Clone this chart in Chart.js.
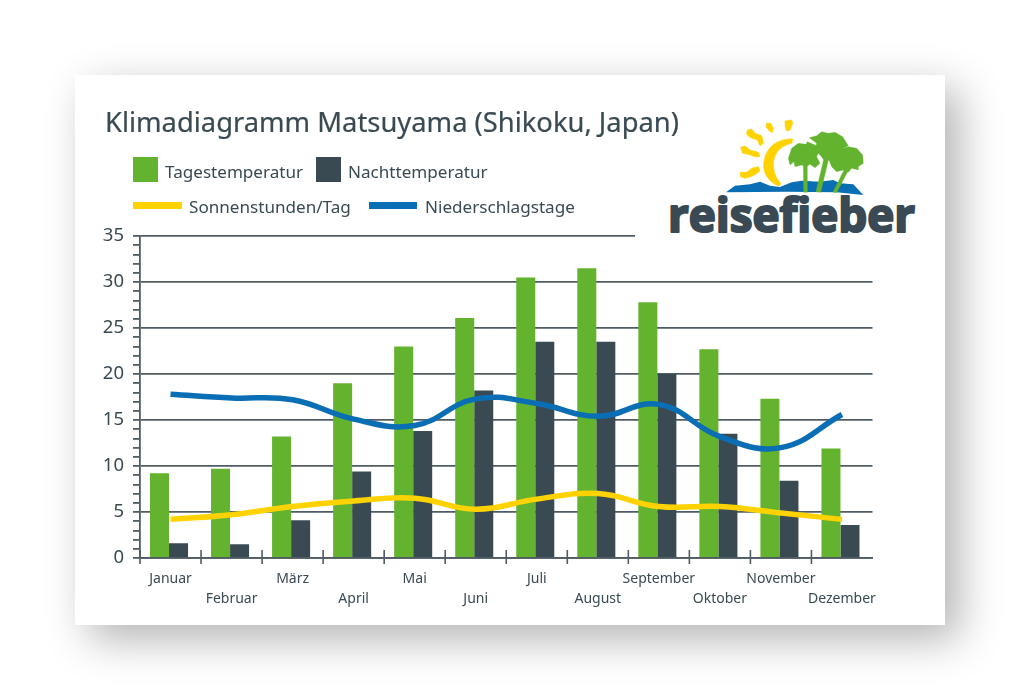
<!DOCTYPE html>
<html lang="de"><head><meta charset="utf-8">
<script src="https://cdn.jsdelivr.net/npm/chart.js@4"></script>
<style>
html,body{margin:0;padding:0;background:#fff;width:1020px;height:700px;overflow:hidden}
body{position:relative;font-family:"Noto Sans",sans-serif;color:#3a4a52}
#card{position:absolute;left:75px;top:75px;width:870px;height:550px;background:#fff;box-shadow:14px 14px 40px rgba(0,0,0,.3)}
canvas{position:absolute;left:0;top:0}
.t{position:absolute;white-space:nowrap;line-height:1}
#title{left:105px;top:108px;font-size:27.35px;z-index:5;-webkit-text-stroke:.2px #3a4a52}
.sw{position:absolute}
#logo{position:absolute;left:635px;top:105px;width:290px;height:132px;background:#fff}
</style></head><body>
<div id="card"></div>
<canvas id="c" width="1020" height="700"></canvas>
<svg id="logo" viewBox="635 105 290 132" xmlns="http://www.w3.org/2000/svg">
  <g transform="translate(720 115) scale(.3333)" stroke-linejoin="round">
    <g fill="#ffd200" stroke="#ffd200" stroke-width="2">
      <path d="M218 72 C190 70 160 82 145 105 C130 128 126 160 138 180 C148 198 162 208 178 213 L182 205 C168 190 160 170 160 148 C160 120 178 92 215 85 Z"/>
      <path d="M195 18 L215 15 L218 25 L210 45 L200 48 L196 35Z"/>
      <path d="M140 25 L152 25 L160 40 L158 52 L148 48 L138 35Z"/>
      <path d="M82 45 L95 42 L105 55 L125 62 L130 85 L120 92 L112 75 L92 68 L80 58Z"/>
      <path d="M62 97 L75 93 L90 105 L115 112 L120 125 L105 125 L85 118 L68 115Z"/>
      <path d="M60 172 L80 172 L95 160 L115 155 L120 168 L100 182 L75 190 L62 185Z"/>
    </g>
    <path fill="#0a6eb4" d="M18 232 L45 212 L90 208 L120 200 L150 212 L180 216 L215 202 L245 197 L300 200 L340 195 L360 205 L400 208 L430 240 L350 232 L200 230Z"/>
    <g fill="#63b32e" stroke="#63b32e" stroke-width="1">
      <path d="M250 150 L262 150 L262 232 L251 232Z"/>
      <path d="M312 130 L326 132 L302 232 L288 230Z"/>
      <path d="M372 165 L384 168 L350 233 L339 231Z"/>
      <path d="M205 130 L215 100 L235 85 L258 88 L262 80 L285 90 L300 105 L290 125 L300 145 L285 158 L270 148 L258 155 L245 150 L225 155 L222 140 L210 150Z"/>
      <path d="M268 68 L290 62 L305 50 L325 55 L345 52 L368 65 L385 92 L370 100 L360 120 L340 130 L325 135 L312 135 L300 120 L285 105 L290 85Z"/>
      <path d="M325 120 L340 105 L370 100 L385 95 L410 100 L428 120 L430 145 L415 155 L415 165 L395 160 L385 172 L370 165 L350 170 L335 155 L325 130Z"/>
    </g>
  </g>
  <text x="668" y="232" font-family="'Open Sans','Noto Sans',sans-serif" font-weight="700" font-size="47" fill="#3a4a54" stroke="#3a4a54" stroke-width="2.2" stroke-linejoin="round" textLength="247" lengthAdjust="spacingAndGlyphs">reisefieber</text>
</svg>
<div id="title" class="t">Klimadiagramm Matsuyama (Shikoku, Japan)</div>
<div id="legend"></div>
<script>
const months = ['Januar','Februar','März','April','Mai','Juni','Juli','August','September','Oktober','November','Dezember'];
const tagestemperatur = [9.2,9.7,13.2,19,23,26.1,30.5,31.5,27.8,22.7,17.3,11.9];
const nachttemperatur = [1.6,1.5,4.1,9.4,13.8,18.2,23.5,23.5,20,13.5,8.4,3.6];
const sonnenstunden = [4.2,4.7,5.6,6.2,6.5,5.3,6.4,7,5.6,5.6,4.9,4.2];
const niederschlagstage = [17.8,17.4,17.2,15.1,14.4,17.3,16.8,15.4,16.7,13.2,12,15.6];
const GREEN='#63b32e', DARK='#3a4a52', YELLOW='#ffd200', BLUE='#0a6eb4', GRID='#4f5c64';

function put(parent,html){parent.insertAdjacentHTML('beforeend',html);}
const lg=document.getElementById('legend');
const FS='font-size:17.1px';
put(lg,`<div class="sw" style="left:133px;top:157px;width:25px;height:25px;background:${GREEN}"></div>`);
put(lg,`<div class="t" style="left:165px;top:163px;${FS}">Tagestemperatur</div>`);
put(lg,`<div class="sw" style="left:316px;top:157px;width:25px;height:25px;background:${DARK}"></div>`);
put(lg,`<div class="t" style="left:348px;top:163px;${FS}">Nachttemperatur</div>`);
put(lg,`<div class="sw" style="left:133px;top:202px;width:49px;height:7px;background:${YELLOW}"></div>`);
put(lg,`<div class="t" style="left:189px;top:198px;${FS}">Sonnenstunden/Tag</div>`);
put(lg,`<div class="sw" style="left:369px;top:202px;width:48px;height:7px;background:${BLUE}"></div>`);
put(lg,`<div class="t" style="left:425px;top:198px;${FS}">Niederschlagstage</div>`);

const categoryTicks={id:'categoryTicks',
  beforeDatasetDraw(chart,args){
    if(chart.getDatasetMeta(args.index).type==='bar'){chart.ctx.save();chart.ctx.translate(-1.5,0);}
  },
  afterDatasetDraw(chart,args){
    if(chart.getDatasetMeta(args.index).type==='bar'){chart.ctx.restore();}
  },
  afterDraw(chart){
    const s=chart.scales.x,c=chart.ctx,w=s.getPixelForTick(1)-s.getPixelForTick(0);
    c.save();c.strokeStyle=GRID;c.lineWidth=1.6;
    for(let i=0;i<months.length;i++){
      const x=s.getPixelForTick(i)-w/2;
      c.beginPath();c.moveTo(x,s.top-8);c.lineTo(x,s.top+6);c.stroke();
    }
    c.restore();
  }};

new Chart(document.getElementById('c'),{
  type:'bar',
  data:{labels:months,datasets:[
    {type:'line',label:'Niederschlagstage',data:niederschlagstage,borderColor:BLUE,backgroundColor:BLUE,borderWidth:5.5,pointRadius:0,tension:.42,order:0},
    {type:'line',label:'Sonnenstunden/Tag',data:sonnenstunden,borderColor:YELLOW,backgroundColor:YELLOW,borderWidth:5.5,pointRadius:0,tension:.42,order:1},
    {label:'Tagestemperatur',data:tagestemperatur,backgroundColor:GREEN,categoryPercentage:.623,barPercentage:1,order:2},
    {label:'Nachttemperatur',data:nachttemperatur,backgroundColor:DARK,categoryPercentage:.623,barPercentage:1,order:2}
  ]},
  options:{
    responsive:false,animation:false,devicePixelRatio:1,
    layout:{padding:{left:89.3,right:147.5,top:236,bottom:82}},
    plugins:{legend:{display:false},title:{display:false},tooltip:{enabled:false}},
    scales:{
      x:{offset:true,
        afterFit(s){s.height=60;},
        grid:{display:false,drawTicks:false},
        border:{color:GRID,width:1.8},
        ticks:{autoSkip:false,maxRotation:0,minRotation:0,padding:11,color:DARK,
          font:{family:'"Noto Sans"',size:14,lineHeight:1.44},
          callback(v,i){return i%2?['',months[i]]:months[i];}}
      },
      y:{min:0,max:35,
        afterFit(s){s.width=50.7;},
        grid:{lineWidth:1.8,tickLength:7,
          color:c=>c.tick&&c.tick.value%5===0?GRID:'rgba(0,0,0,0)',
          tickColor:GRID},
        border:{color:GRID,width:1.8},
        ticks:{stepSize:1,autoSkip:false,padding:9,color:DARK,
          font:{family:'"Noto Sans"',size:18.5},
          callback(v){return v%5===0?String(v):'';}}
      }
    }
  },
  plugins:[categoryTicks]
});
</script>
</body></html>
